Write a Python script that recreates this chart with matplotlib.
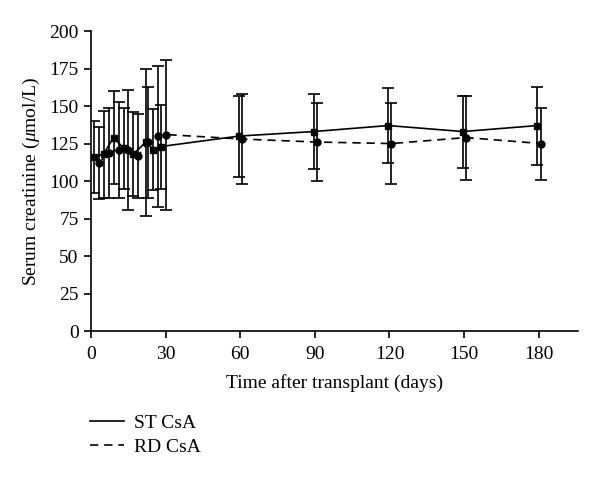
import numpy as np
import matplotlib
matplotlib.use("Agg")
from matplotlib import pyplot as plt
from matplotlib.lines import Line2D

plt.rcParams["font.family"] = ["Liberation Serif", "DejaVu Serif"]
plt.rcParams["mathtext.fontset"] = "custom"
plt.rcParams["mathtext.rm"] = "Liberation Serif"
plt.rcParams["mathtext.it"] = "Liberation Serif:italic"

# ST CsA (solid, squares)
st_days = [1, 5, 9, 13, 17, 22, 25, 28, 59.5, 89.5, 119.5, 149.5, 179.5]
st_mean = [116, 118, 129, 122, 118, 126, 121, 123, 130, 133, 137, 133, 137]
st_sd = [24, 29, 31, 27, 28, 49, 27, 28, 27, 25, 25, 24, 26]

# RD CsA (dashed, circles)
rd_days = [3, 7, 11, 15, 19, 23, 27, 30, 60.8, 90.8, 120.8, 150.8, 181]
rd_mean = [112, 119, 121, 121, 117, 126, 130, 131, 128, 126, 125, 129, 125]
rd_sd = [24, 30, 32, 40, 28, 37, 47, 50, 30, 26, 27, 28, 24]

fig = plt.figure(figsize=(6, 4.78), dpi=100)
ax = fig.add_axes([0.152, 0.3075, 0.812, 0.6275])

ax.errorbar(st_days, st_mean, yerr=st_sd, color="black", ls="-", lw=1.2,
            marker="s", ms=4.5, capsize=4, elinewidth=1.2, capthick=1.2)
ax.errorbar(rd_days, rd_mean, yerr=rd_sd, color="black", ls=(0, (5, 3.5)), lw=1.2,
            marker="o", ms=5, capsize=4, elinewidth=1.2, capthick=1.2)

ax.set_xlim(0, 196)
ax.set_ylim(0, 200)
ax.set_xticks([0, 30, 60, 90, 120, 150, 180])
ax.set_yticks(np.arange(0, 201, 25))
ax.spines["top"].set_visible(False)
ax.spines["right"].set_visible(False)
ax.spines["left"].set_linewidth(1.2)
ax.spines["bottom"].set_linewidth(1.2)
ax.tick_params(direction="out", length=5, width=1.2, labelsize=14, pad=4)
ax.tick_params(axis="x", pad=6)
ax.set_xlabel("Time after transplant (days)", fontsize=14, labelpad=8)
ax.set_ylabel(r"Serum creatinine ($\mathit{\mu}$mol/L)", fontsize=14, labelpad=5)

handles = [Line2D([], [], color="black", lw=1.2, ls="-"),
           Line2D([], [], color="black", lw=1.2, ls=(0, (5, 3.5)))]
fig.legend(handles, ["ST CsA", "RD CsA"], loc="upper left",
           bbox_to_anchor=(0.128, 0.162), frameon=False, fontsize=14,
           handlelength=1.75, handletextpad=0.5, labelspacing=0.35,
           borderpad=0.2)

fig.savefig("out.png", dpi=100)
